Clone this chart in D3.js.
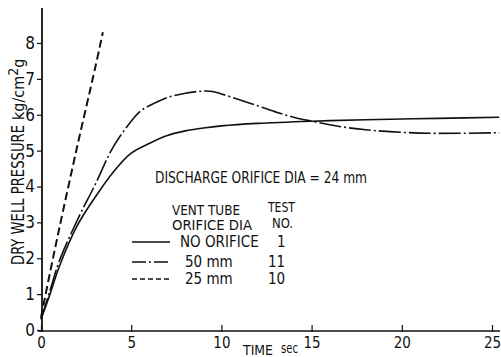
<!DOCTYPE html>
<html><head><meta charset="utf-8">
<script src="https://cdn.jsdelivr.net/npm/d3@7"></script>
<style>
html,body{margin:0;padding:0;background:#fff;}
svg{display:block;}
text{font-family:"Liberation Sans Narrow","DejaVu Sans Condensed",sans-serif;fill:#111;}
</style></head>
<body><svg id="c" width="501" height="357"></svg>
<script>
const xTicks = [0,5,10,15,20,25];
const yTicks = [0,1,2,3,4,5,6,7,8];
const tNoOrifice = [0,0.5,1,2,3,4,5,6,7,8,9,10,12,15,18,20,22,25.4];
const pNoOrifice = [0.3,1.0,1.75,2.9,3.7,4.4,4.93,5.2,5.42,5.55,5.63,5.69,5.76,5.82,5.86,5.88,5.9,5.93];
const t50mm = [0,0.5,1,2,3,4,5,5.5,6,7,8,9,9.5,10,11,12,13,14,15,16,17,18,20,22,25.4];
const p50mm = [0.3,1.1,1.9,3.05,4.05,5.1,5.82,6.1,6.25,6.48,6.6,6.66,6.65,6.58,6.42,6.25,6.08,5.93,5.82,5.72,5.64,5.58,5.51,5.48,5.5];
const t25mm = [0,0.5,1,2,3,3.43];
const p25mm = [0.35,1.6,2.8,5.1,7.3,8.3];
const legendLabels = ["NO ORIFICE","50  mm","25  mm"];
const legendTests = ["1","11","10"];

const svg = d3.select("#c");
const x = d3.scaleLinear().domain([0,25]).range([41,492]);
const y = d3.scaleLinear().domain([0,8]).range([330,43]);

// axes
const xAxis = d3.axisBottom(x).tickValues(xTicks).tickSize(0).tickPadding(6);
const gx = svg.append("g").attr("transform","translate(0,331)").call(xAxis);
gx.select(".domain").remove();
gx.append("line").attr("x1",38).attr("x2",500).attr("y1",0).attr("y2",0).attr("stroke","#111").attr("stroke-width",1.6);
gx.selectAll(".tick").append("line").attr("y1",-6).attr("y2",1).attr("stroke","#111").attr("stroke-width",1.2);
gx.selectAll(".tick text").attr("font-size",15).attr("fill","#111")
  .attr("font-family","'Liberation Sans Narrow','DejaVu Sans Condensed',sans-serif");

const yAxis = d3.axisLeft(y).tickValues(yTicks).tickSize(5).tickPadding(2);
const gy = svg.append("g").attr("transform","translate(42,0)").call(yAxis);
gy.select(".domain").remove();
gy.append("line").attr("x1",0).attr("x2",0).attr("y1",332).attr("y2",8).attr("stroke","#111").attr("stroke-width",1.8);
gy.selectAll(".tick line").attr("stroke","#111").attr("stroke-width",1.2);
gy.selectAll(".tick text").attr("font-size",17).attr("fill","#111")
  .attr("font-family","'Liberation Sans Narrow','DejaVu Sans Condensed',sans-serif");

// curves
const line = d3.line().x(d=>x(d[0])).y(d=>y(d[1])).curve(d3.curveCatmullRom.alpha(0.5));
svg.append("path").datum(d3.zip(tNoOrifice,pNoOrifice)).attr("d",line)
  .attr("fill","none").attr("stroke","#111").attr("stroke-width",1.6);
svg.append("path").datum(d3.zip(t50mm,p50mm)).attr("d",line)
  .attr("fill","none").attr("stroke","#111").attr("stroke-width",1.6).attr("stroke-dasharray","22,3,2,3");
svg.append("path").datum(d3.zip(t25mm,p25mm)).attr("d",line)
  .attr("fill","none").attr("stroke","#111").attr("stroke-width",2).attr("stroke-dasharray","8,4");

// axis titles
svg.append("text").attr("transform","translate(24,265) rotate(-90)").attr("font-size",17)
  .attr("textLength",140).attr("lengthAdjust","spacingAndGlyphs").text("DRY WELL PRESSURE");
const kg = svg.append("text").attr("transform","translate(24,120) rotate(-90)").attr("font-size",16);
kg.append("tspan").text("kg/cm");
kg.append("tspan").attr("dy",-6).attr("font-size",14).text("2");
kg.append("tspan").attr("dy",6).text("g");

svg.append("text").attr("x",243).attr("y",355).attr("font-size",14).attr("textLength",30).attr("lengthAdjust","spacingAndGlyphs").text("TIME");
svg.append("text").attr("x",281).attr("y",353).attr("font-size",14).attr("textLength",17).attr("lengthAdjust","spacingAndGlyphs").text("sec");

svg.append("text").attr("x",155).attr("y",183).attr("font-size",16)
  .attr("textLength",212).attr("lengthAdjust","spacingAndGlyphs").text("DISCHARGE ORIFICE DIA = 24 mm");

// legend
svg.append("text").attr("x",172).attr("y",215).attr("font-size",14).attr("textLength",68).attr("lengthAdjust","spacingAndGlyphs").text("VENT TUBE");
svg.append("text").attr("x",172).attr("y",230).attr("font-size",14).attr("textLength",80).attr("lengthAdjust","spacingAndGlyphs").text("ORIFICE DIA");
svg.append("text").attr("x",268).attr("y",212).attr("font-size",14).attr("textLength",27).attr("lengthAdjust","spacingAndGlyphs").text("TEST");
svg.append("text").attr("x",272).attr("y",228).attr("font-size",14).attr("textLength",21).attr("lengthAdjust","spacingAndGlyphs").text("NO.");
const dashes = [null,"14,3,2,3","5,3"];
const rowY = [242,262,279];
const lg = svg.append("g");
legendLabels.forEach((lab,i)=>{
  lg.append("line").attr("x1",132).attr("x2",170).attr("y1",rowY[i]).attr("y2",rowY[i])
    .attr("stroke","#111").attr("stroke-width",1.6).attr("stroke-dasharray",dashes[i]);
  lg.append("text").attr("x",i===0?180:185).attr("y",rowY[i]+5).attr("font-size",15).text(lab);
  lg.append("text").attr("x",i===0?277:268).attr("y",rowY[i]+5).attr("font-size",15).text(legendTests[i]);
});
</script></body></html>
